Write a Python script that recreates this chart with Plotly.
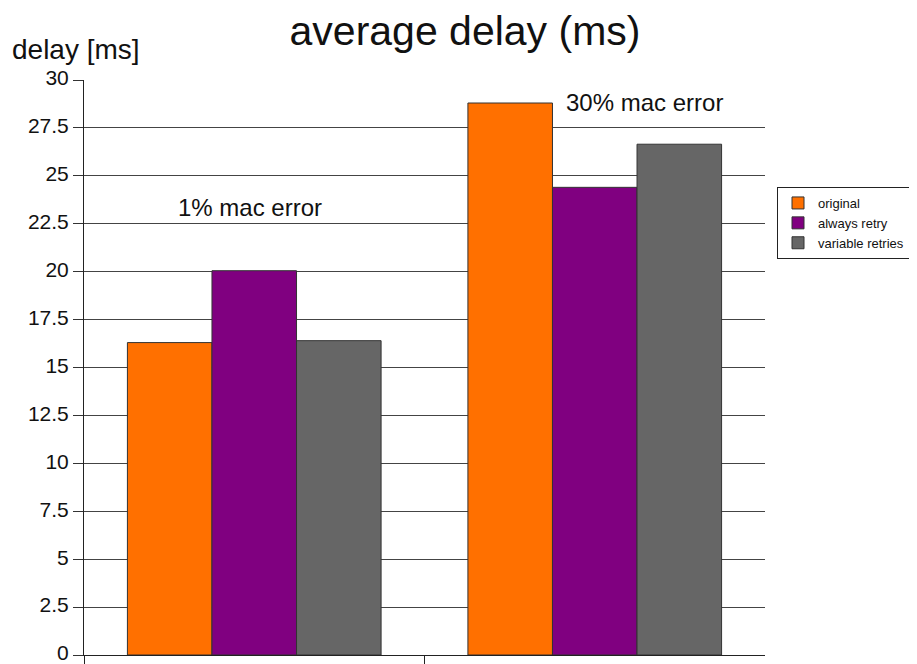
import plotly.graph_objects as go

groups = ["1% mac error", "30% mac error"]
series = ["original", "always retry", "variable retries"]
original = [16.3, 28.8]
always_retry = [20.05, 24.4]
variable_retries = [16.4, 26.65]
colors = ["#ff7000", "#800080", "#666666"]
y_ticks = [0, 2.5, 5, 7.5, 10, 12.5, 15, 17.5, 20, 22.5, 25, 27.5, 30]
y_tick_text = ["0", "2.5", "5", "7.5", "10", "12.5", "15", "17.5", "20", "22.5", "25", "27.5", "30"]
label_y = [23.35, 28.85]
label_x = [-0.012, 1.147]

# the page body adds an 8px offset; the figure size and layout values compensate for it
W, H = 909, 656
x_pos = list(range(len(groups)))
fig = go.Figure()
for name, vals, col in zip(series, [original, always_retry, variable_retries], colors):
    fig.add_trace(go.Bar(x=x_pos, y=vals, name=name,
                         marker=dict(color=col, line=dict(color="#333333", width=1))))

for gx, gy, txt in zip(label_x, label_y, groups):
    fig.add_annotation(x=gx, y=gy, text=txt, showarrow=False, xref="x", yref="y",
                       font=dict(size=24, color="#111111", family="Liberation Sans"))

fig.add_annotation(x=-0.1087, y=1.0, xref="paper", yref="paper", xanchor="left", yanchor="middle",
                   yshift=31, text="delay [ms]", showarrow=False,
                   font=dict(size=28, color="#111111", family="Liberation Sans"))

fig.update_layout(
    width=W, height=H,
    paper_bgcolor="white", plot_bgcolor="white",
    margin=dict(l=76, r=152, t=72, b=9, autoexpand=False),
    barmode="group", bargap=0.255, bargroupgap=0,
    title=dict(text="average delay (ms)", x=457 / W, xanchor="center", xref="container",
               y=1 - 23 / H, yanchor="middle", yref="container",
               font=dict(size=41, color="#111111", family="Liberation Sans")),
    font=dict(family="Liberation Sans", color="#111111"),
    legend=dict(x=(777 - 8) / W, y=1 - (187 - 8) / H, xanchor="left", yanchor="top",
                xref="container", yref="container",
                bordercolor="#222222", borderwidth=1, itemwidth=30,
                font=dict(size=13, family="Liberation Sans", color="#111111"),
                bgcolor="white", tracegroupgap=0),
    xaxis=dict(range=[-0.5, 1.5], tickmode="array", tickvals=[-0.5, 0.5], ticktext=["", ""],
               ticks="outside", ticklen=10, tickcolor="#222222", showgrid=False, zeroline=False,
               showline=True, linecolor="#222222", linewidth=1, automargin=False),
    yaxis=dict(range=[0, 30], tickmode="array", tickvals=y_ticks, ticktext=y_tick_text,
               ticks="outside", ticklen=10, tickcolor="#333333", showgrid=True, gridcolor="#444444",
               gridwidth=1, zeroline=False, showline=True, linecolor="#222222", linewidth=1,
               automargin=False, ticklabeloverflow="allow", ticklabelshift=-2,
               tickfont=dict(size=21, family="Liberation Sans", color="#111111")),
)
fig.write_html("out.html")
